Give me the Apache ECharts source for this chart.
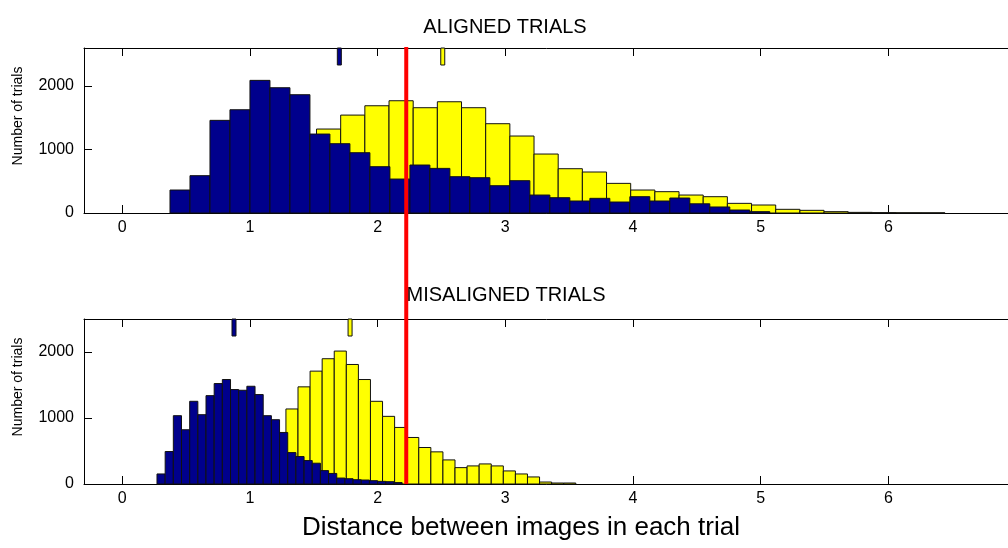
<!DOCTYPE html>
<html><head><meta charset="utf-8">
<script src="https://cdn.jsdelivr.net/npm/echarts@6/dist/echarts.min.js"></script>
<style>html,body{margin:0;padding:0;background:#fff}#c{width:1008px;height:548px}</style>
</head><body><div id="c"></div>
<script>
// ---- data ----
const xTickValues = [0, 1, 2, 3, 4, 5, 6, 7];
const xLabelValues = [0, 1, 2, 3, 4, 5, 6];
const yTickValues = [0, 1000, 2000];
const panelTitles = ['ALIGNED TRIALS', 'MISALIGNED TRIALS'];
const xAxisTitle = 'Distance between images in each trial';
const yAxisTitle = 'Number of trials';

// Aligned trials (top panel)
const alignedBlueStart = 0.3735, alignedBlueWidth = 0.1566;
const alignedBlueCounts = [362, 588, 1460, 1627, 2090, 1974, 1864, 1244, 1092, 950,
  730, 535, 756, 703, 572, 556, 430, 509, 283, 241,
  189, 231, 173, 257, 189, 236, 145, 95, 47, 21];
const alignedYellowStart = 0.764, alignedYellowWidth = 0.1893;
const alignedYellowCounts = [25, 178, 435, 913, 1323, 1543, 1690, 1769, 1659, 1753,
  1659, 1407, 1213, 929, 698, 646, 467, 362, 336, 283,
  257, 152, 126, 58, 42, 21, 10, 6, 4, 3];
const alignedMeans = { blue: 1.70, yellow: 2.51 };

// Misaligned trials (bottom panel)
const misBlueStart = 0.2717, misBlueWidth = 0.064;
const misBlueCounts = [152, 492, 1035, 822, 1253, 1050, 1339, 1522, 1583, 1431,
  1420, 1481, 1355, 1035, 974, 781, 476, 416, 355, 315,
  203, 160, 90, 80, 65, 60, 50, 40, 35, 22];
const misYellowStart = 0.714, misYellowWidth = 0.0946;
const misYellowCounts = [10, 25, 90, 200, 330, 520, 1137, 1472, 1710, 1898,
  2014, 1811, 1583, 1253, 1025, 857, 705, 553, 487, 365,
  248, 274, 304, 274, 198, 152, 107, 30, 15, 15];
const misMeans = { blue: 0.875, yellow: 1.784 };

const thresholdX = 2.224;

// ---- helpers ----
const BLUE = '#00008C', YELLOW = '#FFFF00';
const FONT = 'Liberation Sans, Arial, sans-serif';
function bins(start, width, counts) {
  return counts.map((c, i) => [start + i * width, start + (i + 1) * width, c]);
}
function histSeries(data, color, gi) {
  return {
    type: 'custom', xAxisIndex: gi * 2, yAxisIndex: gi * 2, data: data,
    encode: { x: [0, 1], y: 2 },
    renderItem: function (params, api) {
      const p0 = api.coord([api.value(0), api.value(2)]);
      const p1 = api.coord([api.value(1), 0]);
      return { type: 'rect', shape: { x: p0[0], y: p0[1], width: p1[0] - p0[0], height: p1[1] - p0[1] },
        style: { fill: color, stroke: '#111', lineWidth: 1 } };
    }
  };
}
function meanSeries(x, color, gi, ymax) {
  return {
    type: 'custom', xAxisIndex: gi * 2, yAxisIndex: gi * 2, data: [[x]], z: 5,
    encode: { x: 0 },
    renderItem: function (params, api) {
      const p = api.coord([api.value(0), ymax]);
      return { type: 'rect', shape: { x: p[0] - 2, y: p[1], width: 4, height: 17 },
        style: { fill: color, stroke: '#111', lineWidth: 1 } };
    }
  };
}
const grids = [
  { left: 84, top: 48, width: 932, height: 165, outerBoundsMode: 'none', containLabel: false },
  { left: 84, top: 319, width: 932, height: 165, outerBoundsMode: 'none', containLabel: false },
  { left: 84, top: 47, width: 932, height: 437, outerBoundsMode: 'none', containLabel: false }
];
const axLine = { show: true, onZero: false, lineStyle: { color: '#000', width: 1 } };
function xAx(gi, pos, labels) {
  return { type: 'value', gridIndex: gi, position: pos, min: -0.3, max: 7,
    axisLine: axLine, splitLine: { show: false },
    axisTick: { show: true, inside: true, length: 8, customValues: xTickValues, lineStyle: { color: '#000' } },
    axisLabel: { show: labels, customValues: xLabelValues, margin: 7, color: '#000', fontSize: 16, fontFamily: FONT } };
}
function yAx(gi, pos, ymax, labels) {
  return { type: 'value', gridIndex: gi, position: pos, min: 0, max: ymax,
    axisLine: axLine, splitLine: { show: false },
    axisTick: { show: true, inside: true, length: 8, customValues: yTickValues, lineStyle: { color: '#000' } },
    axisLabel: { show: labels, customValues: yTickValues, margin: 10, color: '#000', fontSize: 16, fontFamily: FONT,
      formatter: function (v) { return String(v); } } };
}
const option = {
  animation: false,
  backgroundColor: '#fff',
  grid: grids,
  xAxis: [xAx(0, 'bottom', true), xAx(0, 'top', false), xAx(1, 'bottom', true), xAx(1, 'top', false),
    { type: 'value', gridIndex: 2, min: -0.3, max: 7, show: false }],
  yAxis: [yAx(0, 'left', 2600, true), yAx(0, 'right', 2600, false), yAx(1, 'left', 2500, true), yAx(1, 'right', 2500, false),
    { type: 'value', gridIndex: 2, min: 0, max: 1, show: false }],
  series: [
    histSeries(bins(alignedYellowStart, alignedYellowWidth, alignedYellowCounts), YELLOW, 0),
    histSeries(bins(alignedBlueStart, alignedBlueWidth, alignedBlueCounts), BLUE, 0),
    meanSeries(alignedMeans.blue, BLUE, 0, 2600),
    meanSeries(alignedMeans.yellow, YELLOW, 0, 2600),
    histSeries(bins(misYellowStart, misYellowWidth, misYellowCounts), YELLOW, 1),
    histSeries(bins(misBlueStart, misBlueWidth, misBlueCounts), BLUE, 1),
    meanSeries(misMeans.blue, BLUE, 1, 2500),
    meanSeries(misMeans.yellow, YELLOW, 1, 2500),
    {
      type: 'custom', xAxisIndex: 4, yAxisIndex: 4, data: [[thresholdX]], z: 10,
      encode: { x: 0 },
      renderItem: function (params, api) {
        const a = api.coord([api.value(0), 0]);
        const b = api.coord([api.value(0), 1]);
        return { type: 'line', shape: { x1: a[0], y1: a[1], x2: b[0], y2: b[1] },
          style: { stroke: '#FF0000', lineWidth: 4 } };
      }
    }
  ],
  graphic: [
    { type: 'text', x: 505, y: 27, z: 1, style: { text: panelTitles[0], font: '20px ' + FONT, fill: '#000', textAlign: 'center', textVerticalAlign: 'middle' } },
    { type: 'text', x: 506, y: 295, z: 1, style: { text: panelTitles[1], font: '20px ' + FONT, fill: '#000', textAlign: 'center', textVerticalAlign: 'middle' } },
    { type: 'text', x: 521, y: 528, style: { text: xAxisTitle, font: '26px ' + FONT, fill: '#000', textAlign: 'center', textVerticalAlign: 'middle' } },
    { type: 'text', x: 18, y: 116, rotation: Math.PI / 2, style: { text: yAxisTitle, font: '14px ' + FONT, fill: '#000', textAlign: 'center', textVerticalAlign: 'middle' } },
    { type: 'text', x: 18, y: 387, rotation: Math.PI / 2, style: { text: yAxisTitle, font: '14px ' + FONT, fill: '#000', textAlign: 'center', textVerticalAlign: 'middle' } }
  ]
};
const chart = echarts.init(document.getElementById('c'), null, { renderer: 'canvas' });
chart.setOption(option);
</script></body></html>
